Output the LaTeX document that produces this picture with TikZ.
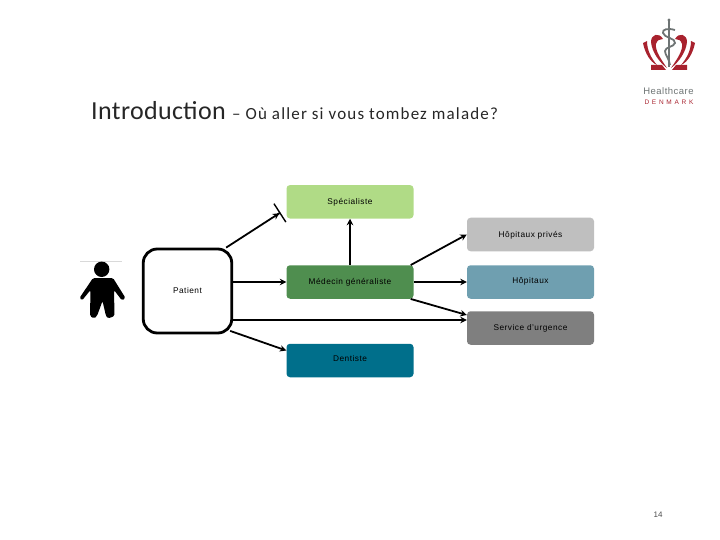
\documentclass[tikz,border=0pt]{standalone}
\usepackage{fontspec}
\setmainfont{Liberation Sans}
\newfontfamily\titlefont{Carlito}
\usetikzlibrary{arrows.meta}
\definecolor{spec}{HTML}{B0DB86}
\definecolor{prive}{HTML}{BFBFBF}
\definecolor{gp}{HTML}{4F8E4F}
\definecolor{hosp}{HTML}{6F9FB0}
\definecolor{urg}{HTML}{7F7F7F}
\definecolor{dent}{HTML}{006F8B}
\definecolor{logored}{HTML}{A8222E}
\definecolor{logogray}{HTML}{6E7474}
\tikzset{
  labelfont/.style={font=\fontsize{8.3}{10}\selectfont\addfontfeatures{LetterSpace=6}, text height=5.8pt, text depth=0pt},
  carebox/.style={labelfont, rounded corners=3.5pt, minimum width=127pt, minimum height=33.5pt, inner sep=0pt},
  careline/.style={draw=black, line width=1.8pt, -{Stealth[length=6.5pt,width=6.5pt]}}
}
\begin{document}
\begin{tikzpicture}[x=1pt, y=-1pt]
  \useasboundingbox (0,0) rectangle (720,540);
  % title
  \node[anchor=base west, inner sep=0pt, text=black!85] (title) at (91,120) {\titlefont\fontsize{26}{28}\selectfont\addfontfeatures{LetterSpace=1.5}\hbox{Introduc}\hbox{tion} \fontsize{17}{20}\selectfont\addfontfeatures{LetterSpace=6.8}– Où aller si vous tombez malade?};
  % logo
  \draw[logogray, line width=1.1pt] (669,19) -- (669,67);
  \fill[logogray] (669,20) circle (1.6pt);
  \draw[logogray, line width=1.8pt] (675,30) .. controls (668,28) and (662,29) .. (663,33) .. controls (664,38) and (676,38) .. (675,43) .. controls (674,47) and (665,47) .. (665,51) .. controls (665,55) and (669,58) .. (670,65);
  \fill[logored] (663,39) .. controls (659,32) and (651,34) .. (651,42) .. controls (652,52) and (659,62) .. (667,68) .. controls (660,58) and (655,50) .. (656,44) .. controls (657,40) and (660,39) .. (663,39) -- cycle;
  \fill[logored] (675,39) .. controls (679,32) and (687,34) .. (687,42) .. controls (686,52) and (679,62) .. (671,68) .. controls (678,58) and (683,50) .. (682,44) .. controls (681,40) and (678,39) .. (675,39) -- cycle;
  \fill[logored] (643,43) -- (647,41) .. controls (647,50) and (651,58) .. (657,65) .. controls (650,62) and (645,53) .. (643,43) -- cycle;
  \fill[logored] (695,43) -- (691,41) .. controls (691,50) and (687,58) .. (681,65) .. controls (688,62) and (693,53) .. (695,43) -- cycle;
  \fill[logored] (651,65) -- (662,65) -- (666,70) -- (651,70) -- cycle;
  \fill[logored] (687,65) -- (676,65) -- (672,70) -- (687,70) -- cycle;
  \node[inner sep=0pt, text=logogray, font=\fontsize{9.5}{10}\selectfont\addfontfeatures{LetterSpace=5}] (logoname) at (668.5,91) {Healthcare};
  \node[inner sep=0pt, text=logored, font=\fontsize{6.5}{8}\selectfont\addfontfeatures{LetterSpace=42}] (logoland) at (669,102.7) {DENMARK};
  % patient figure
  \draw[black!15, line width=0.5pt] (80,261) -- (122,261);
  \fill[black] (101.7,269.3) circle (7.7pt);
  \fill[black, rounded corners=1.5pt] (93,278) -- (113,278) -- (125.5,298) -- (122,300.5) -- (114,290) -- (114.5,316) -- (108,318.5) -- (106,316) -- (102.5,301) -- (97,316) -- (94,318.5) -- (90,316) -- (90.5,290) -- (82,300.5) -- (79.5,298) -- cycle;
  % nodes
  \node[labelfont, draw=black, line width=2.8pt, rounded corners=14pt, minimum width=88.5pt, minimum height=84pt, inner sep=0pt] (patient) at (187.5,291) {Patient};
  \node[carebox, fill=spec] (specialiste) at (350,201.8) {Spécialiste};
  \node[carebox, fill=prive] (prives) at (530.5,234.5) {Hôpitaux privés};
  \node[carebox, fill=gp] (medecin) at (350,282) {Médecin généraliste};
  \node[carebox, fill=hosp] (hopitaux) at (530.5,282) {\raisebox{1.5pt}{Hôpitaux}};
  \node[carebox, fill=urg] (urgence) at (530.5,328) {Service d'urgence};
  \node[carebox, fill=dent] (dentiste) at (350,360.5) {\raisebox{2pt}{Dentiste}};
  \coordinate (specin) at (280.5,212.5);
  % connectors
  \draw[draw=black, line width=1.8pt, -{Stealth[length=6.5pt,width=6.5pt]Bar[width=22pt,sep=0pt,line width=1.4pt]}] ([xshift=-7pt]patient.north east) -- (specin);
  \draw[careline] (patient.east |- medecin.west) -- (medecin.west);
  \draw[careline] (patient.east |- 0,320) -- (urgence.west |- 0,320);
  \draw[careline] ([xshift=-3pt,yshift=3.5pt]patient.south east) -- ([yshift=10pt]dentiste.west);
  \draw[careline] (medecin.north) -- (specialiste.south);
  \draw[careline] ([xshift=-3pt]medecin.north east) -- (prives.west);
  \draw[careline] (medecin.east) -- (hopitaux.west);
  \draw[careline] ([xshift=-3pt]medecin.south east) -- ([yshift=13pt]urgence.west);
  % page number
  \node[inner sep=0pt, text=black!70, font=\fontsize{8}{10}\selectfont] (pagenum) at (658,515) {14};
\end{tikzpicture}
\end{document}
